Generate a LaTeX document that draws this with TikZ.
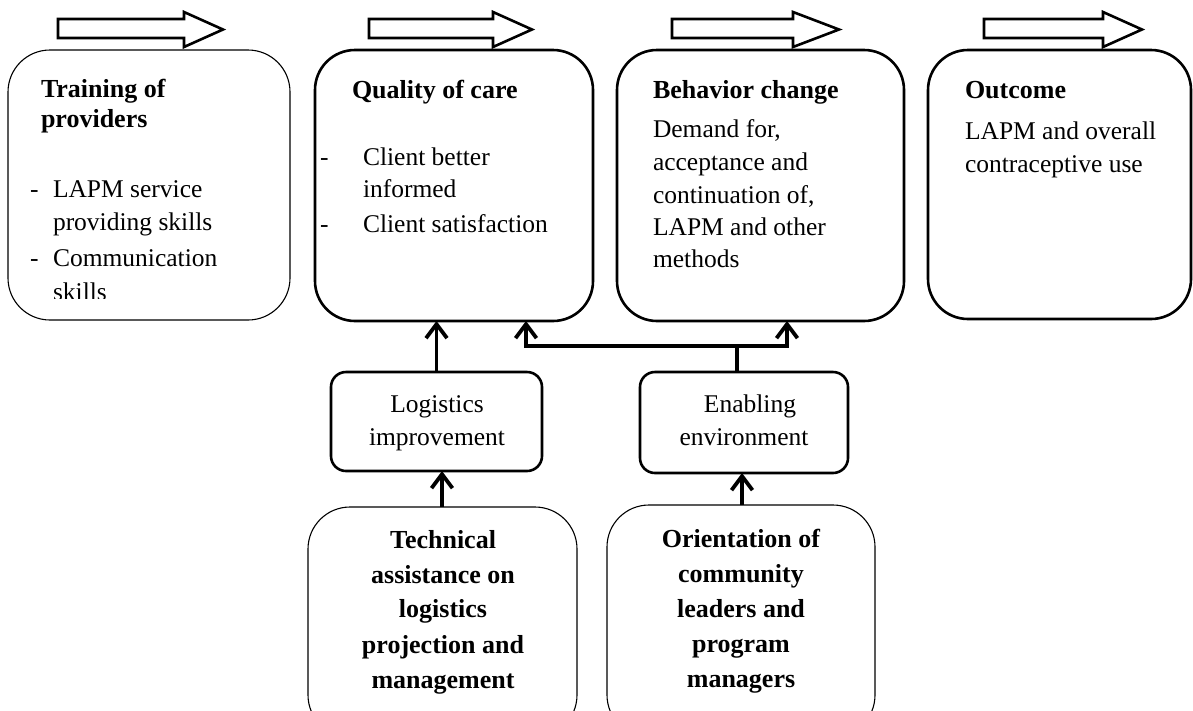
\documentclass[tikz,border=0pt]{standalone}
\usepackage{fontspec}
\setmainfont{Liberation Serif}
\usetikzlibrary{arrows.meta}
\begin{document}
\begin{tikzpicture}[x=1pt,y=-1pt,
  every node/.style={inner sep=0pt, outer sep=0pt},
  stage/.style={draw, rounded corners=40pt, line width=2.6pt},
  stagethin/.style={draw, rounded corners=42pt, line width=1.1pt},
  factor/.style={draw, rounded corners=15pt, line width=2.6pt},
  source/.style={draw, rounded corners=42pt, line width=1.1pt},
  txt/.style={anchor=base west, font=\fontsize{25.5}{33}\selectfont},
  head/.style={anchor=base west, font=\fontsize{26}{30}\selectfont\bfseries},
  ctxt/.style={anchor=base, font=\fontsize{25.5}{33}\selectfont},
  chead/.style={anchor=base, font=\fontsize{26}{35}\selectfont\bfseries},
  flow/.style={draw, line width=2.6pt, line join=miter, fill=white},
  link/.style={line width=3.8pt, line join=miter},
  conn/.style={link, -{Straight Barb[length=14pt, width=21pt]}}
]
\useasboundingbox (0,0) rectangle (1193,710);
\clip (0,0) rectangle (1193,710);

% flow arrows along the top
\draw[flow] (58,19) -- (184,19) -- (184,12) -- (223,29.5) -- (184,47) -- (184,38) -- (58,38) -- cycle;
\draw[flow] (369,19) -- (493,19) -- (493,12) -- (532,29.5) -- (493,47) -- (493,38) -- (369,38) -- cycle;
\draw[flow] (672,19) -- (793,19) -- (793,12) -- (839,29.5) -- (793,47) -- (793,38) -- (672,38) -- cycle;
\draw[flow] (984,19) -- (1103,19) -- (1103,12) -- (1142,29.5) -- (1103,47) -- (1103,38) -- (984,38) -- cycle;

% stage boxes
\node[stagethin, minimum width=282pt, minimum height=270pt] (train) at (149,185) {};
\node[stage, minimum width=278pt, minimum height=271pt] (quality) at (454,185.5) {};
\node[stage, minimum width=287pt, minimum height=271pt] (behav) at (760.5,185.5) {};
\node[stage, minimum width=263pt, minimum height=269pt] (outcome) at (1059.5,184.5) {};

% training of providers (text box overflows and is cut off)
\begin{scope}
\clip (10,52) rectangle (288,298);
\node[head] (trA) at (41,97) {Training of};
\node[head] (trB) at (41,127) {providers};
\node[txt] (trD1) at (30,197) {-};
\node[txt] (trC1) at (53,197) {LAPM service};
\node[txt] (trC2) at (53,230) {providing skills};
\node[txt] (trD2) at (30,266) {-};
\node[txt] (trC3) at (53,266) {Communication};
\node[txt] (trC4) at (53,300) {skills};
\end{scope}

% quality of care
\node[head] (quA) at (352,98) {Quality of care};
\node[txt] (quD1) at (320,165) {-};
\node[txt] (quC1) at (363,165) {Client better};
\node[txt] (quC2) at (363,197) {informed};
\node[txt] (quD2) at (320,232) {-};
\node[txt] (quC3) at (363,232) {Client satisfaction};

% behavior change
\node[head] (beA) at (653,98) {Behavior change};
\node[txt] (beC1) at (653,137) {Demand for,};
\node[txt] (beC2) at (653,170) {acceptance and};
\node[txt] (beC3) at (653,203) {continuation of,};
\node[txt] (beC4) at (653,235) {LAPM and other};
\node[txt] (beC5) at (653,267) {methods};

% outcome
\node[head] (ouA) at (965,98) {Outcome};
\node[txt] (ouC1) at (965,139) {LAPM and overall};
\node[txt] (ouC2) at (965,172) {contraceptive use};

% intermediate factors
\node[factor, minimum width=211pt, minimum height=99pt] (logi) at (436.5,421.5) {};
\node[ctxt] (loA) at (437,412) {Logistics};
\node[ctxt] (loB) at (437,445) {improvement};
\node[factor, minimum width=208pt, minimum height=101pt] (enab) at (744,422.5) {};
\node[ctxt] (enA) at (750,412) {Enabling};
\node[ctxt] (enB) at (744,445) {environment};

% interventions
\node[source, minimum width=269pt, minimum height=230pt] (tech) at (442.5,622) {};
\node[chead] (teA) at (443,548) {Technical};
\node[chead] (teB) at (443,583) {assistance on};
\node[chead] (teC) at (443,617) {logistics};
\node[chead] (teD) at (443,653) {projection and};
\node[chead] (teE) at (443,688) {management};
\node[source, minimum width=268pt, minimum height=232pt] (orient) at (741,621) {};
\node[chead] (orA) at (741,547) {Orientation of};
\node[chead] (orB) at (741,582) {community};
\node[chead] (orC) at (741,617) {leaders and};
\node[chead] (orD) at (741,652) {program};
\node[chead] (orE) at (741,687) {managers};

% connectors
\draw[conn] (logi.north) -- (logi.north |- quality.south);
\coordinate (jn) at (737,346);
\coordinate (jl) at (526,346);
\coordinate (jr) at (787,346);
\draw[conn] (enab.north -| jn) -- (jn) -| (quality.south -| jl);
\draw[conn] (jn) -| (behav.south -| jr);
\draw[conn] (tech.north -| 442,0) -- (logi.south -| 442,0);
\draw[conn] (orient.north -| 742,0) -- (enab.south -| 742,0);
\end{tikzpicture}
\end{document}
